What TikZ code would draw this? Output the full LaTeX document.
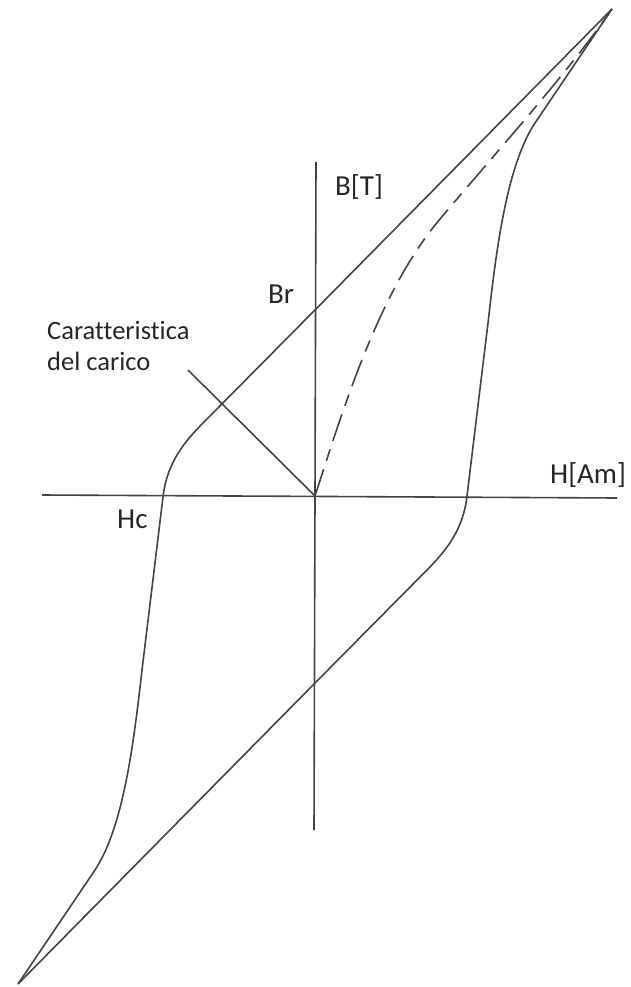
\documentclass[tikz,border=0pt]{standalone}
\usepackage{fontspec}
\setmainfont[Ligatures=NoCommon]{Carlito}
\definecolor{inkgrey}{HTML}{444444}
\definecolor{txtgrey}{HTML}{262626}

\begin{document}
\begin{tikzpicture}[x=1pt,y=-1pt,
      curve/.style={inkgrey,line width=1.6pt,line join=round},
      lbl/.style={txtgrey,inner sep=0pt,font=\fontsize{29}{34}\selectfont}]
    \useasboundingbox (0,0) rectangle (630,987);
    \coordinate (O) at (315,496);
    \coordinate (HL) at (42,495);
    \coordinate (HR) at (617,498);
    \coordinate (VT) at (316,162);
    \coordinate (VB) at (314,830);
    \coordinate (T) at (612,9);
    \coordinate (Bt) at (18,984);
    \coordinate (Br) at (315,310);
    \coordinate (Bm) at (315,683);
    \coordinate (Hc) at (163,497);
    \coordinate (Hp) at (467,496);
    \coordinate (L) at (188,370);
    \draw[curve] (HL) -- (HR);
    \draw[curve] (VT) -- (VB);
    \draw[curve] (T) -- (Br) -- (205,421) .. controls (185,441) and (167,462) .. (Hc)
      -- (142,670) .. controls (134,740) and (124,826) .. (95,870) -- (Bt);
    \draw[curve] (Bt) -- (Bm) -- (425,572) .. controls (445,552) and (463,531) .. (Hp)
      -- (488,323) .. controls (496,253) and (506,167) .. (535,123) -- (T);
    \draw[curve,dash pattern=on 28pt off 9pt on 12pt off 9pt] (O) .. controls (345,403) and (380,290) .. (440,219)
      .. controls (500,148) and (570,70) .. (T);
    \draw[curve] (O) -- (L);
    \node[lbl,anchor=base west] (bt) at (335,196) {B[T]};
    \node[lbl,anchor=base] (br) at (281,303) {Br};
    \node[lbl,anchor=base west] (ham) at (550,483) {H[Am]};
    \node[lbl,anchor=base west] (hc) at (117,528) {Hc};
    \node[lbl,font=\fontsize{26.5}{31}\selectfont,align=left,anchor=north west] (car) at (47,321) {Caratteristica\\del carico};
  \end{tikzpicture}
\end{document}
